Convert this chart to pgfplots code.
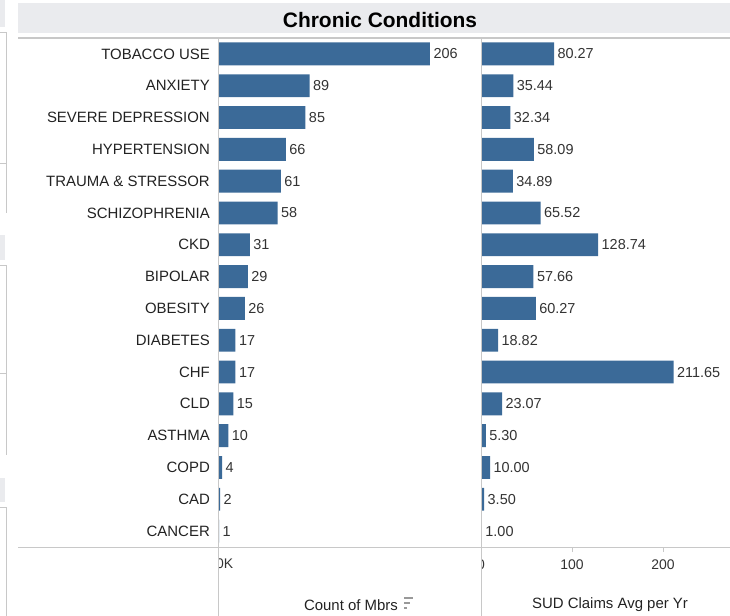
\documentclass[border=0pt]{standalone}
\usepackage{fontspec}
\setmainfont{Liberation Sans}
\usepackage{pgfplots}
\usepackage{pgfplotstable}
\pgfplotsset{compat=1.18}
\definecolor{barblue}{RGB}{59,106,152}
\definecolor{linegray}{RGB}{200,200,200}
\definecolor{bandgray}{RGB}{234,235,238}
\definecolor{txt}{RGB}{34,34,34}
\definecolor{valtxt}{RGB}{51,51,51}

\pgfplotstableread{
pos mbrs sud
15 206 80.27
14 89 35.44
13 85 32.34
12 66 58.09
11 61 34.89
10 58 65.52
9 31 128.74
8 29 57.66
7 26 60.27
6 17 18.82
5 17 211.65
4 15 23.07
3 10 5.30
2 4 10.00
1 2 3.50
0 1 1.00
}\datatable

\begin{document}
\begin{tikzpicture}
\path[use as bounding box] (0,0) rectangle (730bp,-616bp);
% fragments of neighbouring panes at left edge
\fill[bandgray] (0,0) rectangle (5bp,-27bp);
\draw[linegray] (0,-32bp) -- (6bp,-32bp) -- (6bp,-213bp);
\draw[linegray] (0,-163bp) -- (6bp,-163bp);
\fill[bandgray] (0,-235bp) rectangle (5bp,-260bp);
\draw[linegray] (0,-265bp) -- (6bp,-265bp) -- (6bp,-455bp);
\draw[linegray] (0,-373bp) -- (6bp,-373bp);
\fill[bandgray] (0,-478bp) rectangle (5bp,-502bp);
\draw[linegray] (0,-507bp) -- (6bp,-507bp) -- (6bp,-616bp);
% title band
\fill[bandgray] (18bp,-3bp) rectangle (730bp,-33bp);
\node[font=\fontsize{21}{24}\selectfont\bfseries, text=black] at (380bp,-20bp) {Chronic Conditions};
\draw[linegray, line width=1.5bp] (18bp,-38bp) -- (730bp,-38bp);
\draw[linegray] (18bp,-547bp) -- (730bp,-547bp);

\begin{axis}[
  at={(218bp,-547bp)}, anchor=south west,
  scale only axis, width=262bp, height=509bp,
  xmin=0, xmax=254.6, ymin=-0.5, ymax=15.5,
  xbar, bar width=0.72, bar shift=0pt,
  axis line style={draw=none}, major tick length=0pt,
  ytick={0,...,15},
  yticklabels={CANCER, CAD, COPD, ASTHMA, CLD, CHF, DIABETES, OBESITY, BIPOLAR, CKD, SCHIZOPHRENIA, TRAUMA \& STRESSOR, HYPERTENSION, SEVERE DEPRESSION, ANXIETY, TOBACCO USE},
  yticklabel style={font=\fontsize{15}{17}\selectfont, text=txt, inner sep=0pt, anchor=east, xshift=-8bp},
  xtick={0}, xticklabels={0K},
  xticklabel style={font=\fontsize{14}{16}\selectfont, text=valtxt, inner sep=0pt, anchor=north west, xshift=-2bp, yshift=-12bp},
  nodes near coords,
  point meta=x,
  nodes near coords style={font=\fontsize{14.5}{16}\selectfont, text=valtxt, /pgf/number format/fixed, /pgf/number format/precision=0},
  /pgf/number format/assume math mode=true,
  clip=false,
]
\addplot[fill=barblue, draw=none] table[x=mbrs, y=pos] {\datatable};
\end{axis}

\begin{axis}[
  at={(481bp,-547bp)}, anchor=south west,
  scale only axis, width=249bp, height=509bp,
  xmin=0, xmax=273.6, ymin=-0.5, ymax=15.5,
  xbar, bar width=0.72, bar shift=0pt,
  axis line style={draw=none},
  ytick=\empty,
  xtick={0,100,200}, xtick pos=lower, tick align=outside, major tick length=5bp,
  xtick style={draw=linegray, line width=0.8bp},
  xticklabel style={font=\fontsize{14}{16}\selectfont, text=valtxt, inner sep=0pt, yshift=-8bp},
  nodes near coords,
  point meta=x,
  nodes near coords style={font=\fontsize{14.5}{16}\selectfont, text=valtxt, /pgf/number format/fixed, /pgf/number format/fixed zerofill, /pgf/number format/precision=2},
  /pgf/number format/assume math mode=true,
  clip=false,
]
\addplot[fill=barblue, draw=none] table[x=sud, y=pos] {\datatable};
\end{axis}

% hide left halves of the clipped zero labels
\fill[white] (205bp,-550bp) rectangle (217.5bp,-580bp);
\fill[white] (468bp,-550bp) rectangle (480.5bp,-580bp);
\draw[linegray] (218bp,-38bp) -- (218bp,-616bp);
\draw[linegray] (481bp,-38bp) -- (481bp,-616bp);

% axis titles
\node[font=\fontsize{15}{17}\selectfont, text=txt] at (351bp,-605bp) {Count of Mbrs};
\draw[gray!80, line width=1.8bp] (404bp,-598bp) -- (413bp,-598bp);
\draw[gray!80, line width=1.8bp] (404bp,-603bp) -- (410bp,-603bp);
\draw[gray!80, line width=1.8bp] (404bp,-608bp) -- (407bp,-608bp);
\node[font=\fontsize{15}{17}\selectfont, text=txt] at (610bp,-605bp) {SUD Claims Avg per Yr};
\end{tikzpicture}
\end{document}
